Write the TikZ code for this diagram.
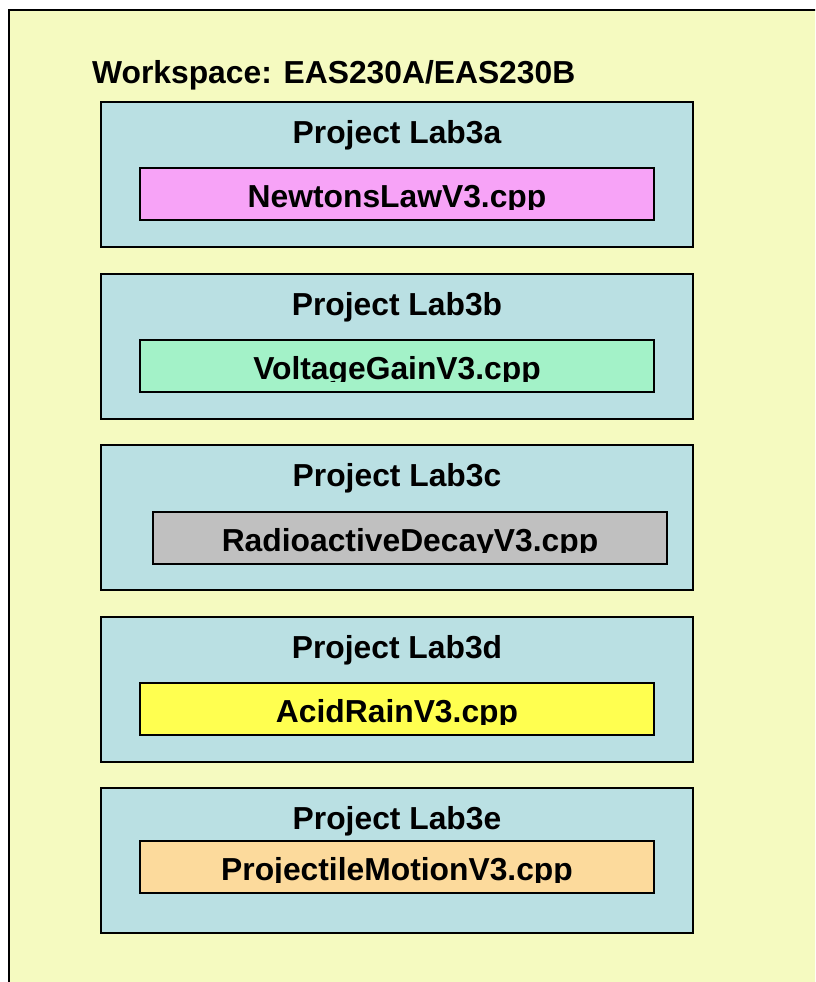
\documentclass[tikz,border=0pt]{standalone}
\usepackage{fontspec}
\setmainfont{Liberation Sans}
\definecolor{wsfill}{RGB}{245,250,192}
\definecolor{projfill}{RGB}{186,224,227}
\definecolor{fpink}{RGB}{247,163,247}
\definecolor{fgreen}{RGB}{163,242,200}
\definecolor{fgrey}{RGB}{192,192,192}
\definecolor{fyellow}{RGB}{255,255,80}
\definecolor{fpeach}{RGB}{252,218,156}
\tikzset{
  projbox/.style={draw=black, line width=2pt, fill=projfill, minimum width=592pt, minimum height=145pt, inner sep=0pt, outer sep=0pt},
  filebox/.style={draw=black, line width=2pt, minimum width=514pt, minimum height=52pt, inner sep=0pt, outer sep=0pt},
  lbl/.style={anchor=base, inner sep=0pt, font=\fontsize{31.8}{36}\selectfont\bfseries},
}
\begin{document}
\begin{tikzpicture}[x=1pt,y=-1pt]
\useasboundingbox (0,0) rectangle (815,982);
\begin{scope}
\clip (0,0) rectangle (815,982);
\fill[white] (0,0) rectangle (815,982);
\draw[line width=2pt, fill=wsfill] (9,10) rectangle (840,1000);
\end{scope}
\node[lbl, anchor=base west] (ws) at (92,84) {Workspace: EAS230A/EAS230B};
% projects
\node[projbox] (p1) at (397,174.5) {};
\node[projbox] (p2) at (397,346.5) {};
\node[projbox] (p3) at (397,517.5) {};
\node[projbox] (p4) at (397,689.5) {};
\node[projbox] (p5) at (397,860.5) {};
\node[lbl] (t1) at (397,143) {Project Lab3a};
\node[lbl] (t2) at (397,315) {Project Lab3b};
\node[lbl] (t3) at (397,486) {Project Lab3c};
\node[lbl] (t4) at (397,658) {Project Lab3d};
\node[lbl] (t5) at (397,829) {Project Lab3e};
% files
\node[filebox, fill=fpink] (f1) at (397,194) {};
\node[filebox, fill=fgreen] (f2) at (397,366) {};
\node[filebox, fill=fgrey] (f3) at (410,537.5) {};
\node[filebox, fill=fyellow] (f4) at (397,709) {};
\node[filebox, fill=fpeach] (f5) at (397,867) {};
\begin{scope}
\clip ([xshift=2pt]f1.north west) rectangle ([yshift=11pt]f1.south east);
\node[lbl] (n1) at (397,207) {NewtonsLawV3.cpp};
\end{scope}
\begin{scope}
\clip ([xshift=2pt]f2.north west) rectangle ([yshift=11pt]f2.south east);
\node[lbl] (n2) at (397,379) {VoltageGainV3.cpp};
\end{scope}
\begin{scope}
\clip ([xshift=2pt]f3.north west) rectangle ([yshift=11pt]f3.south east);
\node[lbl] (n3) at (410,551) {RadioactiveDecayV3.cpp};
\end{scope}
\begin{scope}
\clip ([xshift=2pt]f4.north west) rectangle ([yshift=11pt]f4.south east);
\node[lbl] (n4) at (397,722) {AcidRainV3.cpp};
\end{scope}
\begin{scope}
\clip ([xshift=2pt]f5.north west) rectangle ([yshift=11pt]f5.south east);
\node[lbl] (n5) at (397,880) {ProjectileMotionV3.cpp};
\end{scope}
\end{tikzpicture}
\end{document}
